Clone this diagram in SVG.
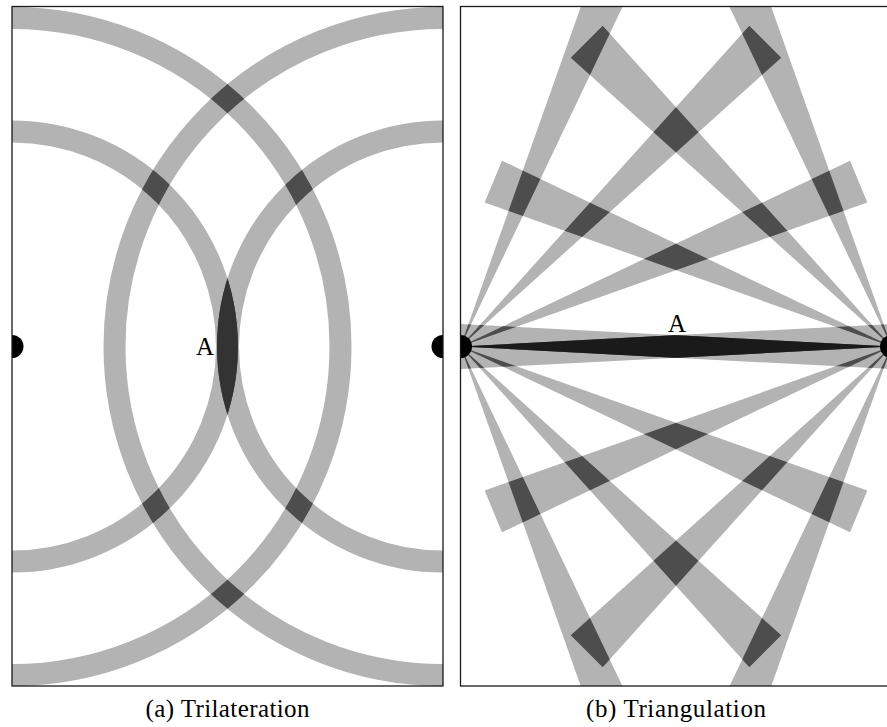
<svg xmlns="http://www.w3.org/2000/svg" xmlns:xlink="http://www.w3.org/1999/xlink" width="887" height="727" viewBox="0 0 887 727">
<style>
.ring{fill:none;stroke:#b3b3b3;stroke-width:22}
.ringd{fill:none;stroke:#4d4d4d;stroke-width:22}
.ringx{fill:none;stroke:#333333;stroke-width:22}
.beam{fill:#b3b3b3}
.beamd{fill:#4d4d4d}
.beamx{fill:#1a1a1a}
.frame{fill:none;stroke:#1a1a1a;stroke-width:1.3}
.dot{fill:#000}
.lbl{font-size:25px;fill:#000}
.cap{font-size:25px;fill:#000;text-anchor:middle}
</style>
<defs>
<clipPath id="clipA"><rect x="12" y="6.5" width="431" height="679.5"/></clipPath>
<clipPath id="clipB"><rect x="460.5" y="6.5" width="431" height="679.5"/></clipPath>
<clipPath id="annL"><path clip-rule="evenodd" d="M-192 346.5a204 204 0 1 0 408 0a204 204 0 1 0-408 0Z M-214 346.5a226 226 0 1 0 452 0a226 226 0 1 0-452 0Z M-305.5 346.5a317.5 317.5 0 1 0 635 0a317.5 317.5 0 1 0-635 0Z M-327.5 346.5a339.5 339.5 0 1 0 679 0a339.5 339.5 0 1 0-679 0Z"/></clipPath>
<clipPath id="annLin"><path clip-rule="evenodd" d="M-192 346.5a204 204 0 1 0 408 0a204 204 0 1 0-408 0Z M-214 346.5a226 226 0 1 0 452 0a226 226 0 1 0-452 0Z"/></clipPath>
<polygon id="p0" points="460.5,346.5 891.5,323.91 891.5,369.09"/>
<polygon id="pu1" points="460.5,346.5 867.34,202.43 850.05,160.69"/>
<polygon id="pd1" points="460.5,346.5 850.05,532.31 867.34,490.57"/>
<polygon id="pu2" points="460.5,346.5 781.23,57.71 749.29,25.77"/>
<polygon id="pd2" points="460.5,346.5 781.23,635.29 749.29,667.23"/>
<polygon id="pu3" points="460.5,346.5 646.31,-43.05 604.57,-60.34"/>
<polygon id="pd3" points="460.5,346.5 646.31,736.05 604.57,753.34"/>
<polygon id="q0" points="891.5,346.5 460.5,323.91 460.5,369.09"/>
<polygon id="qu1" points="891.5,346.5 484.66,202.43 501.95,160.69"/>
<polygon id="qd1" points="891.5,346.5 501.95,532.31 484.66,490.57"/>
<polygon id="qu2" points="891.5,346.5 570.77,57.71 602.71,25.77"/>
<polygon id="qd2" points="891.5,346.5 570.77,635.29 602.71,667.23"/>
<polygon id="qu3" points="891.5,346.5 705.69,-43.05 747.43,-60.34"/>
<polygon id="qd3" points="891.5,346.5 705.69,736.05 747.43,753.34"/>
<clipPath id="allP">
<use xlink:href="#p0"/><use xlink:href="#pu1"/><use xlink:href="#pd1"/><use xlink:href="#pu2"/><use xlink:href="#pd2"/><use xlink:href="#pu3"/><use xlink:href="#pd3"/>
</clipPath>
<clipPath id="p0c"><use xlink:href="#p0"/></clipPath>
</defs>

<g id="panel-a">
<g clip-path="url(#clipA)">
<g id="rings-a">
<circle class="ring" cx="12" cy="346.5" r="215"/>
<circle class="ring" cx="12" cy="346.5" r="328.5"/>
<circle class="ring" cx="443" cy="346.5" r="215"/>
<circle class="ring" cx="443" cy="346.5" r="328.5"/>
</g>
<g id="overlaps-a" clip-path="url(#annL)">
<circle class="ringd" cx="443" cy="346.5" r="215"/>
<circle class="ringd" cx="443" cy="346.5" r="328.5"/>
</g>
<g id="lens-a" clip-path="url(#annLin)">
<circle class="ringx" cx="443" cy="346.5" r="215"/>
</g>
<g id="station-a1"><circle class="dot" cx="12" cy="346.5" r="11.5"/></g>
<g id="station-a2"><circle class="dot" cx="443" cy="346.5" r="11.5"/></g>
</g>
<rect class="frame" x="12" y="6.5" width="431" height="679.5"/>
<text id="label-a" class="lbl" font-family="Liberation Serif, DejaVu Serif, serif" x="196" y="355">A</text>
<text id="caption-a" class="cap" font-family="Liberation Serif, DejaVu Serif, serif" x="227.5" y="717" textLength="164" lengthAdjust="spacing">(a) Trilateration</text>
</g>

<g id="panel-b">
<g clip-path="url(#clipB)">
<g id="beams-b" class="beam">
<use xlink:href="#p0"/><use xlink:href="#pu1"/><use xlink:href="#pd1"/><use xlink:href="#pu2"/><use xlink:href="#pd2"/><use xlink:href="#pu3"/><use xlink:href="#pd3"/>
<use xlink:href="#q0"/><use xlink:href="#qu1"/><use xlink:href="#qd1"/><use xlink:href="#qu2"/><use xlink:href="#qd2"/><use xlink:href="#qu3"/><use xlink:href="#qd3"/>
</g>
<g id="overlaps-b" class="beamd" clip-path="url(#allP)">
<use xlink:href="#q0"/><use xlink:href="#qu1"/><use xlink:href="#qd1"/><use xlink:href="#qu2"/><use xlink:href="#qd2"/><use xlink:href="#qu3"/><use xlink:href="#qd3"/>
</g>
<g id="lens-b" class="beamx" clip-path="url(#p0c)">
<use xlink:href="#q0"/>
</g>
<g id="station-b1"><circle class="dot" cx="460.5" cy="346.5" r="11.5"/></g>
<g id="station-b2"><circle class="dot" cx="891.5" cy="346.5" r="11.5"/></g>
</g>
<rect class="frame" x="460.5" y="6.5" width="431" height="679.5"/>
<text id="label-b" class="lbl" font-family="Liberation Serif, DejaVu Serif, serif" x="668" y="332">A</text>
<text id="caption-b" class="cap" font-family="Liberation Serif, DejaVu Serif, serif" x="676" y="717" textLength="180" lengthAdjust="spacing">(b) Triangulation</text>
</g>
</svg>
